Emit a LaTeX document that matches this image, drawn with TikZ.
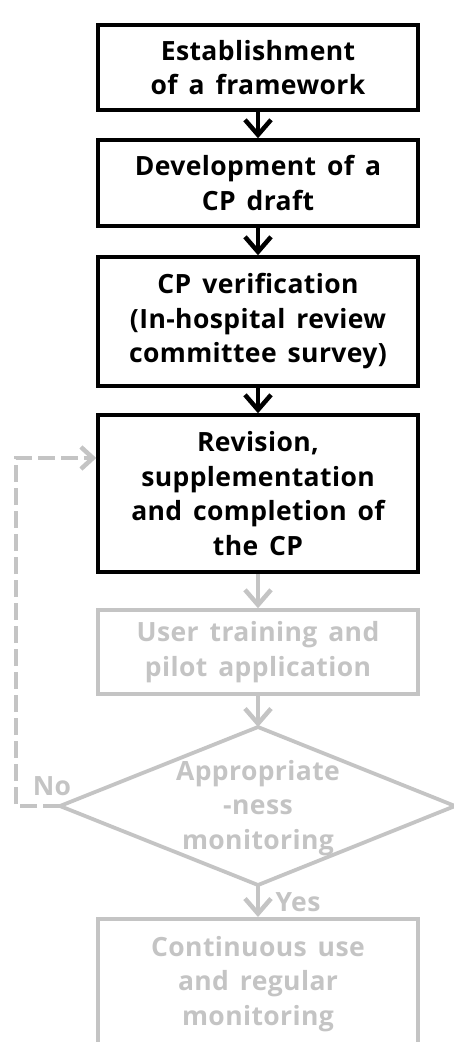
\documentclass[tikz,border=0pt]{standalone}
\usepackage{fontspec}
\setmainfont{Open Sans}[LetterSpace=1.5, WordSpace=1.5]
\usetikzlibrary{arrows.meta}
\definecolor{lg}{HTML}{C4C4C4}
\begin{document}
\begin{tikzpicture}[x=1pt,y=-1pt,
  font=\fontsize{26.5}{34.5}\selectfont\bfseries,
  stepbox/.style={draw=black, line width=3.5pt, rectangle, minimum width=320pt, align=center, inner sep=0pt, text=black},
  greybox/.style={stepbox, draw=lg, text=lg},
  flow/.style={line width=4pt, -{Straight Barb[length=15pt,width=26pt,line width=4.5pt]}},
  gflow/.style={flow, draw=lg},
  lbl/.style={text=lg, inner sep=0pt}
]
\clip (0,0) rectangle (454,1042);
\node[stepbox, minimum height=85pt] (b1) at (258,67.5) {Establishment\\of a framework};
\node[stepbox, minimum height=86pt] (b2) at (258,183) {Development of a\\CP draft};
\node[stepbox, minimum height=129pt] (b3) at (258,321.5) {CP verification\\(In-hospital review\\committee survey)};
\node[stepbox, minimum height=157pt] (b4) at (258,493.5) {Revision,\\supplementation\\and completion of\\the CP};
\node[greybox, minimum height=84pt] (b5) at (258,652) {User training and\\pilot application};
\coordinate (dT) at (258,727);
\coordinate (dB) at (258,885);
\coordinate (dL) at (60,806);
\coordinate (dR) at (455,806);
\draw[lg, line width=3.8pt, line join=miter] (dT) -- (dR) -- (dB) -- (dL) -- cycle;
\node[lbl, align=center] (dtext) at (258,808) {Appropriate\\-ness\\monitoring};
\node[greybox, minimum height=130pt, anchor=north] (b6) at (258,917) {Continuous use\\and regular\\monitoring};
\draw[flow] (b1.south) -- (b2.north);
\draw[flow] (b2.south) -- (b3.north);
\draw[flow] (b3.south) -- (b4.north);
\draw[gflow] (b4.south) -- (b5.north);
\draw[gflow] (b5.south) -- (dT);
\draw[gflow] (dB) -- (b6.north);
\draw[lg, line width=4.5pt, dash pattern=on 17pt off 6pt, -{Straight Barb[length=12pt,width=22pt,line width=4.5pt]}] (dL) -- (16,806) -- (16,458) -- (b4.west |- 0,458);
\node[lbl] (no) at (52,786) {No};
\node[lbl] (yes) at (298,902) {Yes};
\end{tikzpicture}
\end{document}
